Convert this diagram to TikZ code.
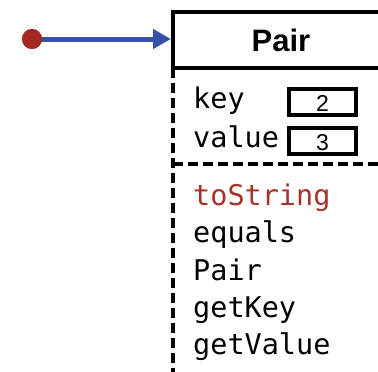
\documentclass[tikz,border=0pt]{standalone}
\usepackage{fontspec}
\setmainfont{Liberation Sans}
\newfontfamily\codefont{DejaVu Sans Mono}
\usetikzlibrary{arrows.meta}
\definecolor{refred}{HTML}{A32A22}
\definecolor{refblue}{HTML}{3850A8}
\definecolor{methred}{HTML}{A83228}
\tikzset{
  frame/.style={line width=3.6pt, draw=black},
  dashframe/.style={frame, dash pattern=on 10pt off 5pt},
  member/.style={anchor=base west, inner sep=0pt, font=\codefont\fontsize{28.5}{28.5}\selectfont},
  valbox/.style={draw=black, line width=3.6pt, minimum width=67pt, minimum height=26pt, inner sep=0pt},
  valtext/.style={anchor=base, inner sep=0pt, font=\fontsize{23}{23}\selectfont},
  srcdot/.style={circle, fill=refred, minimum size=20pt, inner sep=0pt},
  ref/.style={draw=refblue, line width=5pt, -{Triangle[length=18pt,width=19pt]}}
}
\begin{document}
\begin{tikzpicture}[x=1pt,y=-1pt]
\useasboundingbox (0,0) rectangle (378,372);
% object frame: solid header, dashed body
\draw[frame] (378,11.8) -- (172.7,11.8) -- (172.7,68) -- (378,68);
\draw[dashframe] (172.7,68) -- (172.7,372);
\draw[dashframe] (172.7,164) -- (378,164);
% header
\node[inner sep=0pt, anchor=base, font=\bfseries\fontsize{31}{31}\selectfont] (title) at (281,51) {Pair};
% fields
\node[member] (keylbl) at (193,108) {key};
\node[member] (vallbl) at (193,147) {value};
\node[valbox] (keybox) at (322.5,102) {};
\node[valbox] (valbox) at (322.5,141) {};
\node[valtext] (keynum) at (keybox.center |- 0,111) {2};
\node[valtext] (valnum) at (valbox.center |- 0,150) {3};
% methods
\node[member, text=methred] (m1) at (193,205) {toString};
\node[member] (m2) at (193,242) {equals};
\node[member] (m3) at (193,280) {Pair};
\node[member] (m4) at (193,317) {getKey};
\node[member] (m5) at (193,354) {getValue};
% reference arrow
\coordinate (target) at (171,39);
\node[srcdot] (src) at (32,39) {};
\draw[ref] (src.center) -- (target);
\node[srcdot] at (src) {};
\end{tikzpicture}
\end{document}
